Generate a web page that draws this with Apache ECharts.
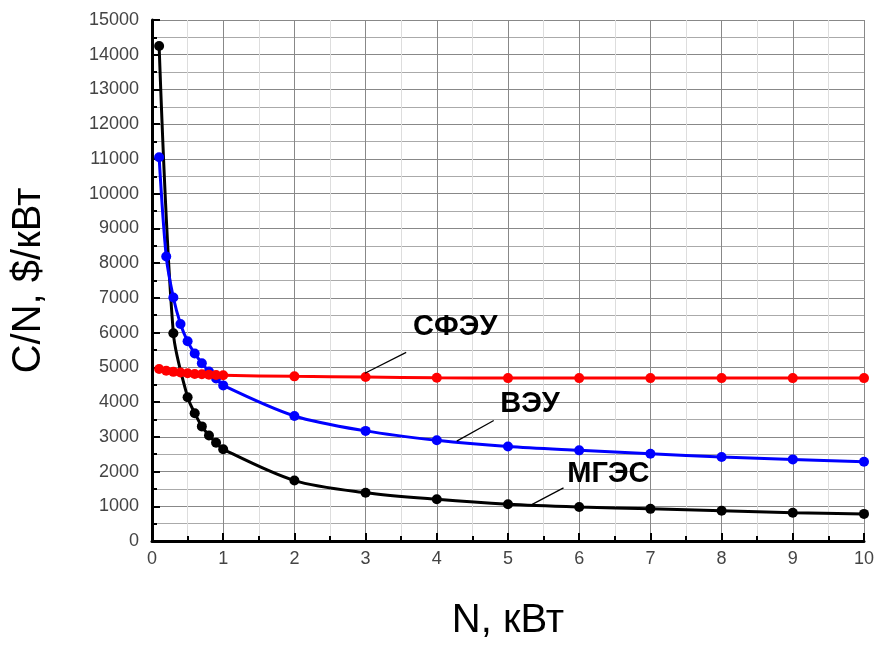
<!DOCTYPE html>
<html>
<head>
<meta charset="utf-8">
<script src="https://cdn.jsdelivr.net/npm/echarts@6/dist/echarts.min.js"></script>
<style>
  html, body { margin: 0; padding: 0; background: #fff; overflow: hidden; }
  #chart { width: 877px; height: 646px; }
</style>
</head>
<body>
<div id="chart"></div>
<script>
// МГЭС
var mgesX = [0.1, 0.3, 0.5, 0.6, 0.7, 0.8, 0.9, 1, 2, 3, 4, 5, 6, 7, 8, 9, 10];
var mgesY = [14250, 5980, 4140, 3680, 3300, 3040, 2830, 2640, 1740, 1390, 1200, 1060, 980, 925, 870, 815, 780];
// ВЭУ
var veuX = [0.1, 0.2, 0.3, 0.4, 0.5, 0.6, 0.7, 0.8, 0.9, 1, 2, 3, 4, 5, 6, 7, 8, 9, 10];
var veuY = [11050, 8190, 7010, 6250, 5750, 5400, 5120, 4880, 4680, 4480, 3600, 3170, 2900, 2720, 2610, 2510, 2420, 2350, 2280];
// СФЭУ
var sfeuX = [0.1, 0.2, 0.3, 0.4, 0.5, 0.6, 0.7, 0.8, 0.9, 1, 2, 3, 4, 5, 6, 7, 8, 9, 10];
var sfeuY = [4950, 4900, 4870, 4850, 4830, 4810, 4800, 4790, 4780, 4770, 4740, 4720, 4700, 4690, 4690, 4690, 4690, 4690, 4690];

var xTicks = ['0', '1', '2', '3', '4', '5', '6', '7', '8', '9', '10'];

// labels: text, text position, leader line start, leader line end (data coords)
var notes = [
  { text: 'СФЭУ', at: [4.26, 6150], from: [2.99, 4830], to: [3.57, 5430] },
  { text: 'ВЭУ', at: [5.31, 3945], from: [4.28, 2875], to: [4.80, 3470] },
  { text: 'МГЭС', at: [6.41, 1935], from: [5.34, 1055], to: [5.78, 1530] }
];

function pairs(xs, ys) {
  return xs.map(function (x, i) { return [x, ys[i]]; });
}

var chart = echarts.init(document.getElementById('chart'));
var font = '"Liberation Sans", Arial, sans-serif';

function mkSeries(name, xs, ys, color) {
  return {
    name: name,
    type: 'line',
    smooth: 0.3,
    data: pairs(xs, ys),
    symbol: 'circle',
    symbolSize: 10,
    lineStyle: { color: color, width: 3 },
    itemStyle: { color: color },
    z: 3
  };
}

var option = {
  animation: false,
  backgroundColor: '#fff',
  grid: { left: 152, right: 11, top: 20, bottom: 102 },
  xAxis: {
    type: 'value',
    min: 0, max: 10, interval: 1,
    name: 'N, кВт',
    nameLocation: 'middle',
    nameGap: 60,
    nameTextStyle: { fontFamily: font, fontSize: 40, color: '#000' },
    axisLine: { show: true, onZero: false, lineStyle: { color: '#000', width: 3 } },
    axisTick: { show: true, inside: true, length: 8, lineStyle: { color: '#000', width: 2 } },
    minorTick: { show: true, splitNumber: 2, length: 5, lineStyle: { color: '#000', width: 2 } },
    splitLine: { show: true, lineStyle: { color: '#888', width: 1 } },
    minorSplitLine: { show: true, lineStyle: { color: '#ddd', width: 1 } },
    axisLabel: {
      fontFamily: font, fontSize: 18, color: '#444', margin: 9,
      formatter: function (v) { return xTicks[Math.round(v)]; }
    }
  },
  yAxis: {
    type: 'value',
    min: 0, max: 15000, interval: 1000,
    name: 'C/N, $/кВт',
    nameLocation: 'middle',
    nameGap: 103,
    nameTextStyle: { fontFamily: font, fontSize: 40, color: '#000' },
    axisLine: { show: true, onZero: false, lineStyle: { color: '#000', width: 3 } },
    axisTick: { show: true, inside: true, length: 8, lineStyle: { color: '#000', width: 2 } },
    minorTick: { show: true, splitNumber: 2, length: 5, lineStyle: { color: '#000', width: 2 } },
    splitLine: { show: true, lineStyle: { color: '#888', width: 1 } },
    minorSplitLine: { show: true, lineStyle: { color: '#aaa', width: 1 } },
    axisLabel: {
      fontFamily: font, fontSize: 18, color: '#444', margin: 13,
      formatter: function (v) { return String(v); }
    }
  },
  series: [
    mkSeries('МГЭС', mgesX, mgesY, '#000000'),
    mkSeries('ВЭУ', veuX, veuY, '#0000ff'),
    mkSeries('СФЭУ', sfeuX, sfeuY, '#ff0000')
  ]
};

chart.setOption(option);

var gfx = [];
notes.forEach(function (n) {
  var p = chart.convertToPixel({ gridIndex: 0 }, n.at);
  var a = chart.convertToPixel({ gridIndex: 0 }, n.from);
  var b = chart.convertToPixel({ gridIndex: 0 }, n.to);
  gfx.push({
    type: 'line',
    shape: { x1: a[0], y1: a[1], x2: b[0], y2: b[1] },
    style: { stroke: '#000', lineWidth: 1.2 },
    z: 10
  });
  gfx.push({
    type: 'text',
    x: p[0], y: p[1],
    style: {
      text: n.text, fill: '#000', font: 'bold 29px ' + font,
      textAlign: 'center', textVerticalAlign: 'middle'
    },
    z: 10
  });
});
chart.setOption({ graphic: gfx });
</script>
</body>
</html>
